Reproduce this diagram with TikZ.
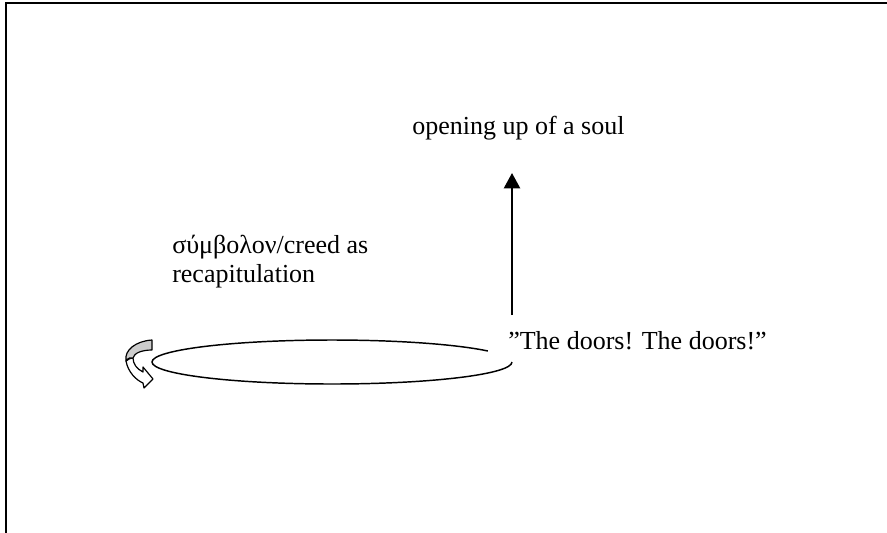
\documentclass[tikz,border=0pt]{standalone}
\usepackage{fontspec}
\setmainfont{Liberation Serif}
\usetikzlibrary{arrows.meta}
\begin{document}
\begin{tikzpicture}[x=0.75pt,y=-0.75pt,
  lbl/.style={inner sep=0pt, anchor=base west, align=left,
    font=\fontsize{19.5}{21.75}\selectfont},
  frameline/.style={line width=1.5pt},
  loopline/.style={line width=1.1pt},
  uparrow/.style={line width=1.8pt, -{Triangle[width=12pt,length=11.5pt]}},
  bandline/.style={line width=0.9pt, line join=round}]
\useasboundingbox (0,0) rectangle (887,532);
% frame (only left and top edges visible)
\draw[frameline] (6,534) -- (6,2.5) -- (889,2.5);
% texts
\node[lbl] (soul) at (412,134) {opening up of a soul};
\node[lbl] (creed) at (172,282) {σύμβολον/creed as\\recapitulation};
\node[lbl] (doors) at (508,349) {”The doors! The doors!”};
% vertical arrow
\coordinate (abot) at (512,315);
\coordinate (atop) at (512,173);
\draw[uparrow] (abot) -- (atop);
% open loop
\coordinate (lstart) at (512,362);
\draw[loopline] (lstart) arc[start angle=0, end angle=-330, x radius=135pt, y radius=16.5pt];
% curved twisted arrow
\filldraw[bandline, fill=white]
  (126,361) .. controls (128,372) and (136,380) .. (143,383)
  -- (144,388) -- (153,379) -- (143,367) -- (143,372)
  .. controls (137,369) and (133,364) .. (133,358)
  .. controls (131,358) and (128,359) .. (126,361) -- cycle;
\filldraw[bandline, fill=black!20]
  (152,340) .. controls (136,341) and (124,350) .. (126,361)
  .. controls (128,358) and (131,357) .. (133,358)
  .. controls (134,353) and (142,350) .. (152,350) -- cycle;
\end{tikzpicture}
\end{document}
